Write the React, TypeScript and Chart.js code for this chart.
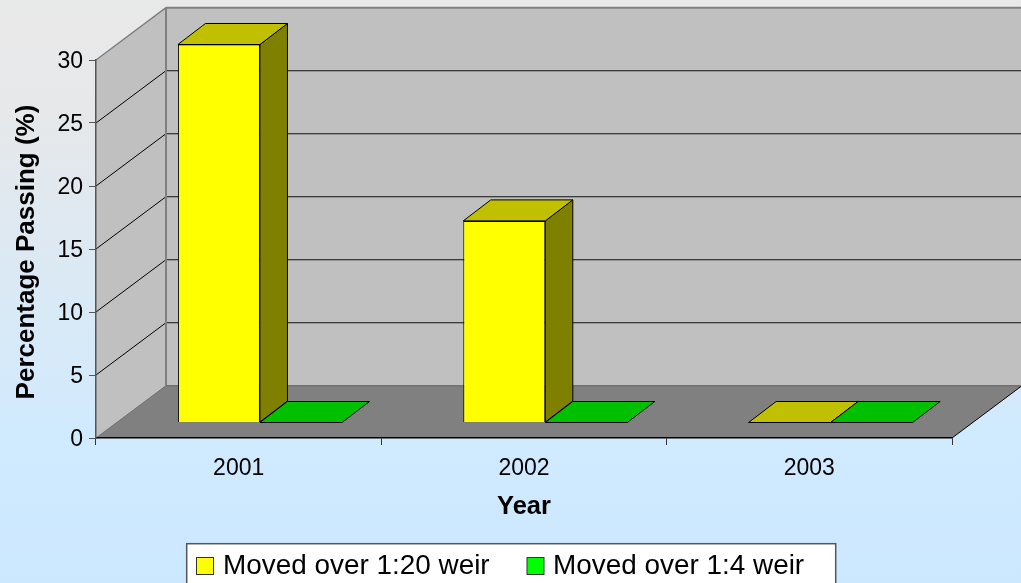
import React, { useEffect, useRef } from "react";
import { Chart, registerables } from "chart.js";

Chart.register(...registerables);

const years = ["2001", "2002", "2003"];
const weir20 = [30, 16, 0];
const weir4 = [0, 0, 0];
const FONT = "'Liberation Sans', Arial, sans-serif";

const WALL = { dx: 70, dy: -52.3 };
const SHIFT = { dx: 21.3, dy: -15.5 };
const DEPTH = { dx: 27.5, dy: -21 };

const poly = (ctx: any, pts: number[][], fill: string | null, stroke: string | null, lw = 1) => {
  ctx.beginPath();
  pts.forEach((p, i) => (i ? ctx.lineTo(p[0], p[1]) : ctx.moveTo(p[0], p[1])));
  ctx.closePath();
  if (fill) { ctx.fillStyle = fill; ctx.fill(); }
  if (stroke) { ctx.strokeStyle = stroke; ctx.lineWidth = lw; ctx.stroke(); }
};
const line = (ctx: any, x1: number, y1: number, x2: number, y2: number, color: string, lw = 1) => {
  ctx.beginPath();
  ctx.moveTo(x1, y1);
  ctx.lineTo(x2, y2);
  ctx.strokeStyle = color;
  ctx.lineWidth = lw;
  ctx.stroke();
};

const nudge = (scale: any, method: string, dy: number) => {
  const orig = scale[method].bind(scale);
  scale[method] = (...args: any[]) => {
    const c = scale.ctx;
    c.save();
    c.translate(0, dy);
    orig(...args);
    c.restore();
  };
};

const scene3d = {
  id: "scene3d",
  afterUpdate(chart: any) {
    nudge(chart.scales.y, "drawLabels", 2);
    nudge(chart.scales.y, "drawTitle", 3);
  },
  beforeDraw(chart: any) {
    const { ctx, width, height, chartArea: a, scales } = chart;
    ctx.save();
    const g = ctx.createLinearGradient(0, 0, 0, height);
    g.addColorStop(0, "#e9e9e9");
    g.addColorStop(0.2, "#e6e8ea");
    g.addColorStop(0.75, "#d0eafe");
    g.addColorStop(1, "#cce8ff");
    ctx.fillStyle = g;
    ctx.fillRect(0, 0, width, height);

    const { left: l, right: r, top: t, bottom: b } = a;
    const bl = l + WALL.dx, br = r + WALL.dx, bt = t + WALL.dy, bb = b + WALL.dy;
    poly(ctx, [[bl, bt], [br, bt], [br, bb], [bl, bb]], "#c0c0c0", null);
    poly(ctx, [[l, t], [bl, bt], [bl, bb], [l, b]], "#c0c0c0", null);
    poly(ctx, [[l, b], [r, b], [br, bb], [bl, bb]], "#808080", null);

    scales.y.ticks.forEach((tk: any) => {
      if (tk.value === 0 || tk.value === 30) return;
      const y = scales.y.getPixelForValue(tk.value);
      line(ctx, l, y, bl, y + WALL.dy, "#000", 1);
      line(ctx, bl, y + WALL.dy, br, y + WALL.dy, "#111", 1.1);
    });
    line(ctx, bl, bt, br, bt, "#808080", 2);
    line(ctx, bl, bt, bl, bb, "#808080", 2);
    line(ctx, l, t, bl, bt, "#808080", 1.5);
    line(ctx, bl, bb, br, bb, "#707070", 1.5);
    line(ctx, l, b, bl, bb, "#707070", 1);
    line(ctx, r, b, br, bb, "#000", 1);
    ctx.restore();
  },
  beforeDatasetsDraw(chart: any) {
    chart.ctx.save();
    chart.ctx.translate(SHIFT.dx, SHIFT.dy);
  },
  afterDatasetsDraw(chart: any) {
    const { ctx } = chart;
    ctx.restore();
    ctx.save();
    ctx.lineJoin = "miter";
    chart.data.datasets.forEach((ds: any, di: number) => {
      chart.getDatasetMeta(di).data.forEach((bar: any) => {
        const x0 = bar.x - bar.width / 2 + SHIFT.dx;
        const x1 = bar.x + bar.width / 2 + SHIFT.dx;
        const yt = bar.y + SHIFT.dy;
        const yb = bar.base + SHIFT.dy;
        if (yb - yt > 0.5) {
          poly(ctx, [[x1, yt], [x1 + DEPTH.dx, yt + DEPTH.dy], [x1 + DEPTH.dx, yb + DEPTH.dy], [x1, yb]], ds.sideColor, "#000");
        }
        poly(ctx, [[x0, yt], [x1, yt], [x1 + DEPTH.dx, yt + DEPTH.dy], [x0 + DEPTH.dx, yt + DEPTH.dy]], ds.topColor, "#000");
      });
    });
    ctx.restore();
  },
  afterDraw(chart: any) {
    const { ctx } = chart;
    ctx.save();
    ctx.fillStyle = "#fff";
    ctx.strokeStyle = "#555";
    ctx.lineWidth = 1.5;
    ctx.fillRect(186.7, 543.7, 649, 50);
    ctx.strokeRect(186.7, 543.7, 649, 50);
    ctx.font = `27.9px ${FONT}`;
    ctx.textBaseline = "middle";
    ctx.textAlign = "left";
    const spots = [[196.5, 223], [527, 553]];
    chart.data.datasets.forEach((ds: any, i: number) => {
      ctx.fillStyle = ds.backgroundColor;
      ctx.strokeStyle = "#333";
      ctx.lineWidth = 1;
      ctx.fillRect(spots[i][0], 557.5, 17, 17);
      ctx.strokeRect(spots[i][0], 557.5, 17, 17);
      ctx.fillStyle = "#000";
      ctx.fillText(ds.label, spots[i][1], 566.5);
    });
    ctx.restore();
  },
};

export default function App() {
  const ref = useRef<HTMLCanvasElement>(null);
  useEffect(() => {
    const chart = new Chart(ref.current as HTMLCanvasElement, {
      type: "bar",
      data: {
        labels: years,
        datasets: [
          { label: "Moved over 1:20 weir", data: weir20, backgroundColor: "#ffff00", topColor: "#c0c000", sideColor: "#808000", borderColor: "#000", borderWidth: 1, clip: false } as any,
          { label: "Moved over 1:4 weir", data: weir4, backgroundColor: "#00ff00", topColor: "#00c000", sideColor: "#008000", borderColor: "#000", borderWidth: 1, clip: false } as any,
        ],
      },
      options: {
        responsive: false,
        animation: false,
        layout: { autoPadding: false, padding: { left: 0, top: 60, right: 69, bottom: 0 } },
        datasets: { bar: { categoryPercentage: 0.575, barPercentage: 1 } },
        plugins: { legend: { display: false }, tooltip: { enabled: false } },
        scales: {
          x: {
            afterFit: (s: any) => { s.height = 145; },
            grid: { drawOnChartArea: false, tickLength: 7, color: "#333" },
            border: { color: "#000", width: 1.5 },
            ticks: { color: "#000", font: { family: FONT, size: 23 }, padding: 10, maxRotation: 0 },
            title: { display: true, text: "Year", color: "#000", font: { family: FONT, size: 25.5, weight: "bold" }, padding: { top: 0, bottom: 60.7 } },
          },
          y: {
            min: 0,
            max: 30,
            afterFit: (s: any) => { s.width = 96; },
            grid: { drawOnChartArea: false, tickLength: 7, color: "#555" },
            border: { color: "#555", width: 1.5 },
            ticks: { stepSize: 5, color: "#000", font: { family: FONT, size: 23 }, padding: 6 },
            title: { display: true, text: "Percentage Passing (%)", color: "#000", font: { family: FONT, size: 26, weight: "bold" }, padding: { top: 11.4, bottom: 0 } },
          },
        },
      } as any,
      plugins: [scene3d],
    });
    return () => chart.destroy();
  }, []);
  return (
    <div style={{ position: "absolute", left: 0, top: 0, width: 1021, height: 583, overflow: "hidden" }}>
      <canvas ref={ref} width={1021} height={583} style={{ display: "block" }} />
    </div>
  );
}
